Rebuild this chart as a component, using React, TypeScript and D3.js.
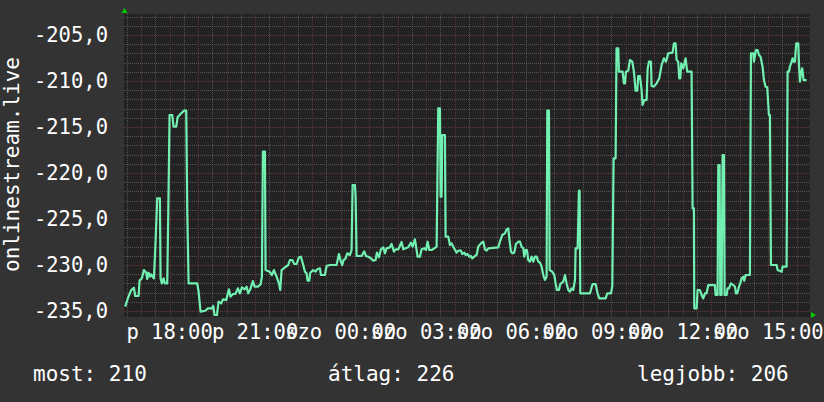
import React from "react";
import * as d3 from "d3";

// ---- data ----
const dayAbbr = ["v", "h", "k", "sze", "cs", "p", "szo"];
const yTitle = "onlinestream.live";
const legendLabels = ["most", "átlag", "legjobb"];
const legendValues = [210, 226, 206];
const yMajorTicks = [-235, -230, -225, -220, -215, -210, -205];

// hours since Friday 00:00
const timeHours = [
  16.443, 16.537, 16.654, 16.747, 16.794, 16.911, 16.946, 17.028, 17.098, 17.18, 17.215, 17.262, 17.32, 17.355, 17.449, 17.496,
  17.566, 17.66, 17.683, 17.73, 17.788, 17.835, 17.917, 17.952, 17.999, 18.093, 18.139, 18.233, 18.28, 18.408, 18.502, 18.584,
  18.619, 18.666, 18.97, 19.017, 19.087, 19.25, 19.344, 19.484, 19.531, 19.578, 19.66, 19.718, 19.812, 19.87, 19.987, 20.081,
  20.14, 20.221, 20.303, 20.397, 20.467, 20.537, 20.631, 20.701, 20.759, 20.829, 20.923, 20.981, 21.098, 21.192, 21.239, 21.274,
  21.344, 21.367, 21.508, 21.59, 21.66, 21.753, 21.835, 21.882, 21.929, 22.034,
  22.163, 22.221, 22.303, 22.373, 22.455, 22.537, 22.607, 22.689, 22.748, 22.806, 22.841, 22.9, 22.935, 23.04, 23.122, 23.18,
  23.274, 23.309, 23.449, 23.508, 23.625, 23.859, 23.941, 24.011, 24.058, 24.104, 24.175, 24.233, 24.327, 24.385, 24.42, 24.502,
  24.526, 24.561, 24.736, 24.83, 24.888, 24.97, 25.064, 25.145, 25.227, 25.274, 25.344, 25.414, 25.496, 25.555, 25.613, 25.73,
  25.789, 25.871, 25.929, 26.023, 26.14, 26.198, 26.28, 26.374, 26.467, 26.526, 26.607, 26.666, 26.701, 26.783, 26.841, 26.935,
  26.994, 27.052, 27.11, 27.192, 27.286, 27.368, 27.426, 27.485, 27.508, 27.543, 27.566, 27.66, 27.684, 27.777, 27.836, 27.894,
  27.953,
  28.07, 28.128, 28.222, 28.268, 28.339, 28.385, 28.455, 28.514, 28.572, 28.619, 28.689, 28.771, 28.83, 28.923, 29.005, 29.064,
  29.122, 29.181, 29.531, 29.59, 29.672, 29.765, 29.824, 29.882, 29.917, 29.976, 30.023, 30.093, 30.151, 30.233, 30.292, 30.35,
  30.409, 30.444, 30.49, 30.537, 30.584, 30.643, 30.701, 30.76, 30.818, 30.877, 30.935, 30.994, 31.052, 31.11, 31.169, 31.227,
  31.251, 31.309, 31.333, 31.426, 31.497, 31.543, 31.59, 31.66, 31.707, 31.812, 31.871, 31.929, 31.988, 32.046, 32.105, 32.163,
  32.222, 32.245, 32.315, 32.362, 32.385, 32.409, 32.748, 32.842, 32.947, 33.017, 33.075, 33.298, 33.356, 33.485, 33.532, 33.578,
  33.649, 33.68,
  33.741, 33.764, 33.893, 33.94, 33.975, 34.01, 34.092, 34.15, 34.232, 34.291, 34.349, 34.408, 34.443, 34.501, 34.56, 34.595,
  34.653, 34.735, 34.77, 34.817, 34.887, 34.911, 34.993, 35.086, 35.18, 35.262, 35.343, 35.414, 35.495, 35.648, 35.694, 35.753,
  35.788, 35.846, 35.881, 35.917, 35.952, 36.022, 36.104, 36.162, 36.314, 36.349, 36.396, 36.408, 36.49, 36.525, 36.607, 36.665,
  36.724, 36.782, 36.841, 36.899, 37.133, 37.156, 37.226, 37.25, 37.297, 37.32, 37.367, 37.402, 37.449, 37.472, 37.542, 37.577,
  37.624, 37.694, 37.776, 37.835, 37.87, 37.917, 37.975, 38.022, 38.069, 38.127, 38.162, 38.209, 38.361, 38.396, 38.478, 38.501,
  38.571, 38.63, 38.677, 38.735, 38.77, 38.805, 38.852, 38.91, 38.969, 39.027, 39.063, 39.098, 39.297, 39.332, 39.472, 39.507,
  39.647, 39.682, 39.729, 39.764, 39.823, 39.858, 39.893, 39.94, 39.963, 39.987, 40.057, 40.08, 40.115, 40.15, 40.197, 40.244,
  40.349,
];

const values = [
  -234.53, -233.6, -232.72, -232.47, -233.37, -233.37, -231.7, -231.45, -230.55, -230.84, -231.52, -230.84, -231.27, -231.02, -231.45, -228.37,
  -222.76, -222.76, -231.45, -232.0, -231.45, -232.0, -232.0, -224.68, -213.7, -213.7, -214.97, -214.97, -213.95, -213.52, -213.23, -213.23,
  -223.84, -232.0, -232.0, -232.9, -235.07, -234.97, -234.71, -234.71, -234.46, -235.44, -235.44, -233.99, -234.17, -233.73, -233.81, -232.65,
  -233.44, -233.15, -233.15, -232.54, -233.08, -232.43, -232.65, -232.36, -233.08, -232.65, -231.74, -232.36, -232.36, -232.1, -231.27, -217.68,
  -217.68, -230.55, -230.73, -231.09, -230.55, -231.27, -232.0, -232.72, -230.55, -230.29,
  -230.0, -229.46, -229.46, -229.89, -229.89, -229.17, -229.1, -230.0, -230.73, -230.91, -231.7, -231.7, -230.84, -230.55, -230.73, -230.47,
  -230.36, -231.09, -231.09, -230.11, -230.0, -230.0, -228.81, -229.64, -230.0, -229.46, -229.28, -228.73, -228.91, -228.37, -221.31, -221.31,
  -222.57, -229.02, -229.02, -228.52, -229.02, -229.1, -229.28, -229.53, -229.46, -228.66, -229.17, -228.3, -228.08, -228.73, -228.19, -228.08,
  -227.72, -228.55, -228.3, -228.3, -227.5, -228.3, -228.19, -228.08, -227.57, -228.01, -227.21, -228.37, -229.1, -229.1, -228.3, -228.19,
  -228.37, -227.47, -228.37, -228.37, -228.19, -228.01, -212.97, -212.97, -222.57, -222.57, -215.87, -215.87, -226.92, -226.92, -227.83, -227.65,
  -228.01,
  -228.66, -228.44, -228.44, -228.81, -228.66, -228.91, -228.81, -229.1, -229.02, -229.28, -229.1, -228.91, -228.01, -227.65, -227.47, -228.3,
  -228.44, -228.19, -228.08, -227.47, -226.74, -226.56, -226.13, -226.02, -227.1, -228.55, -228.73, -228.66, -227.72, -227.47, -227.47, -228.01,
  -228.19, -229.1, -228.37, -228.37, -229.46, -229.64, -229.1, -229.64, -229.1, -229.1, -229.64, -229.75, -230.18, -231.09, -231.63, -231.27,
  -213.23, -213.23, -230.55, -230.73, -231.09, -232.0, -232.72, -232.72, -232.07, -231.81, -231.09, -232.0, -232.72, -232.9, -232.54, -232.72,
  -231.63, -228.19, -228.19, -221.92, -221.92, -233.08, -233.08, -232.07, -232.07, -233.08, -233.62, -233.62, -233.08, -233.08, -232.29, -218.41,
  -218.41, -206.45,
  -206.45, -208.99, -208.99, -210.26, -210.26, -208.99, -208.88, -207.72, -207.9, -208.99, -211.06, -211.06, -209.46, -209.46, -210.98, -212.61,
  -212.07, -212.07, -208.74, -207.9, -207.9, -210.55, -210.62, -210.26, -209.71, -208.27, -207.54, -207.9, -207.0, -206.92, -205.91, -205.91,
  -207.72, -207.9, -209.71, -209.71, -208.08, -208.63, -207.54, -208.99, -208.99, -223.84, -223.84, -234.71, -234.71, -232.72, -232.72, -233.26,
  -233.63, -233.08, -233.08, -232.18, -232.18, -233.26, -233.26, -219.13, -219.13, -233.26, -233.26, -218.05, -218.05, -233.26, -233.26, -232.54,
  -232.54, -232.0, -232.18, -232.36, -233.08, -233.08, -232.36, -232.0, -231.45, -231.27, -231.71, -231.09, -231.09, -207.0, -207.0, -207.9,
  -206.63, -206.63, -207.18, -207.36, -207.9, -208.45, -209.9, -210.62, -210.69, -213.7, -213.7, -230.0, -230.0, -230.55, -230.73, -230.18,
  -230.18, -208.99, -208.99, -208.45, -207.9, -207.54, -207.9, -207.9, -206.81, -205.9, -205.9, -208.08, -210.08, -209.17, -208.63, -209.9,
  -209.9,
];

const domainHours = [16.4, 40.4333];
const yDomain = [-235.435, -202.72];

// ---- layout ----
const W = 824;
const H = 402;
const PL = 124;
const PR = 809;
const PT = 14;
const PB = 315;
const FONT = "'DejaVu Sans Mono', monospace";

export default function App() {
  const base = new Date(2024, 2, 15, 0, 0, 0).getTime();
  const toDate = (h: number) => new Date(base + h * 3600e3);
  const x = d3.scaleTime().domain([toDate(domainHours[0]), toDate(domainHours[1])]).range([PL, PR]);
  const y = d3.scaleLinear().domain(yDomain).range([PB, PT]);

  const data = timeHours.map((h, i) => ({ t: toDate(h), v: values[i] }));
  const line = d3
    .line<{ t: Date; v: number }>()
    .x((d) => x(d.t))
    .y((d) => y(d.v));

  const fmtLocale = d3.formatLocale({ decimal: ",", thousands: " ", grouping: [3], currency: ["", ""], minus: "-" });
  const yFmt = fmtLocale.format(".1f");
  const hm = d3.timeFormat("%H:%M");
  const xLabel = (d: Date) => `${dayAbbr[d.getDay()]} ${hm(d)}`;

  const [d0, d1] = x.domain();
  const hours = d3.timeHour.every(1)!.range(d0, d1);
  const halfHours = d3.timeMinute.every(30)!.range(d0, d1).filter((d) => d.getMinutes() !== 0);
  const labelTicks = d3.timeHour.every(3)!.range(d0, d1);
  const minorY = d3.range(-235, -202, 1).filter((v) => v % 5 !== 0);

  const gridMinor = "#545454";
  const gridMajorH = "#6a3535";
  const gridMajorV = "#583636";

  const px = (v: number) => Math.round(v) + 0.5;

  return (
    <svg width={W} height={H} style={{ position: "fixed", left: 0, top: 0, display: "block" }}>
      <defs>
        <clipPath id="plotClip">
          <rect x={PL} y={PT} width={PR - PL} height={PB - PT + 1} />
        </clipPath>
      </defs>
      <rect x={0} y={0} width={W} height={H} fill="#333333" />
      <rect x={PL} y={PT} width={PR - PL + 1} height={PB - PT + 2} fill="#222222" />

      {/* minor grid */}
      <g stroke={gridMinor} strokeWidth={1} strokeDasharray="1,1">
        {halfHours.map((d, i) => (
          <line key={"vx" + i} x1={px(x(d))} x2={px(x(d))} y1={PT} y2={PB + 2} />
        ))}
        {minorY.map((v, i) => (
          <line key={"hy" + i} x1={PL} x2={PR} y1={px(y(v))} y2={px(y(v))} />
        ))}
      </g>
      {/* major grid */}
      <g strokeWidth={1} strokeDasharray="1,1">
        {hours.map((d, i) => (
          <line key={"mx" + i} stroke={gridMajorV} x1={px(x(d))} x2={px(x(d))} y1={PT} y2={PB + 2} />
        ))}
        {yMajorTicks.map((v, i) => (
          <line key={"my" + i} stroke={gridMajorH} x1={PL} x2={PR} y1={px(y(v))} y2={px(y(v))} />
        ))}
      </g>

      {/* data line */}
      <path
        d={line(data) || ""}
        fill="none"
        stroke="#72f0b2"
        strokeWidth={2.2}
        strokeLinejoin="round"
        clipPath="url(#plotClip)"
      />

      {/* axis arrows */}
      <polygon points={`${PL - 2.5},${PT - 1} ${PL + 3.5},${PT - 1} ${PL + 0.5},${PT - 6}`} fill="#00cc00" />
      <polygon points={`${PR + 2},${PB - 3} ${PR + 2},${PB + 3} ${PR + 7},${PB}`} fill="#00cc00" />

      {/* y labels */}
      <g fill="#ffffff" fontFamily={FONT} fontSize={20.5} textAnchor="end">
        {yMajorTicks.map((v, i) => (
          <text key={"yl" + i} x={108} y={y(v) + 7.5}>
            {yFmt(v)}
          </text>
        ))}
      </g>

      {/* x labels */}
      <g fill="#ffffff" fontFamily={FONT} fontSize={20.5} textAnchor="middle">
        {labelTicks.map((d, i) => (
          <text key={"xl" + i} x={x(d)} y={338.5}>
            {xLabel(d)}
          </text>
        ))}
      </g>

      {/* y title */}
      <text
        transform={`translate(18.5, 164.5) rotate(-90)`}
        fill="#ffffff"
        fontFamily={FONT}
        fontSize={21}
        textAnchor="middle"
      >
        {yTitle}
      </text>

      {/* legend */}
      <g fill="#ffffff" fontFamily={FONT} fontSize={21}>
        {legendLabels.map((l, i) => (
          <text key={"lg" + i} x={[33, 328, 637][i]} y={380.7}>
            {`${l}: ${legendValues[i]}`}
          </text>
        ))}
      </g>
    </svg>
  );
}
